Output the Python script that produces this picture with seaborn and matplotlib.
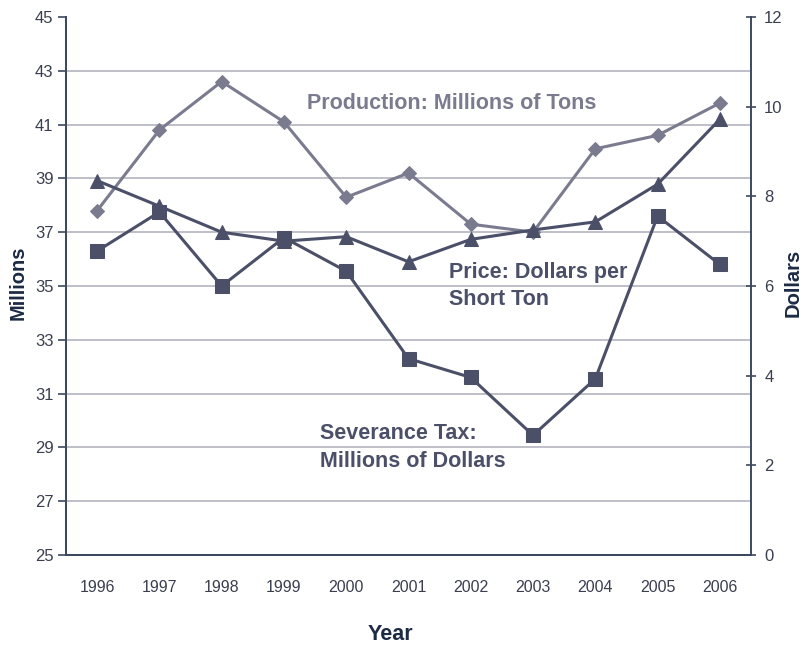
import matplotlib
matplotlib.use("Agg")
import matplotlib.pyplot as plt
import seaborn as sns
import pandas as pd
from matplotlib.ticker import FixedLocator

years = [1996, 1997, 1998, 1999, 2000, 2001, 2002, 2003, 2004, 2005, 2006]
production = [37.8, 40.8, 42.6, 41.1, 38.3, 39.2, 37.3, 37.0, 40.1, 40.6, 41.8]
severance_tax = [36.3, 37.75, 35.0, 36.8, 35.55, 32.3, 31.6, 29.45, 31.55, 37.6, 35.8]
price = [8.35, 7.78, 7.2, 7.0, 7.1, 6.54, 7.04, 7.25, 7.43, 8.27, 9.72]
millions_ticks = list(range(25, 46, 2))
dollars_ticks = list(range(0, 13, 2))

sns.set_style("white")
plt.rcParams["font.family"] = ["Liberation Sans", "DejaVu Sans"]

light = "#7b7b90"
dark = "#4b4f68"
axis_col = "#3c4a5e"
label_col = "#1c2a44"
tick_col = "#3a3f50"

df = pd.DataFrame({"Year": years, "Production": production,
                   "Severance": severance_tax, "Price": price})

fig = plt.figure(figsize=(8.07, 6.46), dpi=100)
ax = fig.add_axes([66 / 807, 1 - 555 / 646, (751 - 66) / 807, (555 - 17) / 646])
ax2 = ax.twinx()

sns.lineplot(data=df, x="Year", y="Production", ax=ax, color=light,
             marker="D", markersize=7, markeredgecolor=light, linewidth=2.2)
sns.lineplot(data=df, x="Year", y="Severance", ax=ax, color=dark,
             marker="s", markersize=10, markeredgecolor=dark, linewidth=2.2)
sns.lineplot(data=df, x="Year", y="Price", ax=ax2, color=dark,
             marker="^", markersize=10, markeredgecolor=dark, linewidth=2.2)

# left axis: millions
ax.set_ylim(25, 45)
ax.yaxis.set_major_locator(FixedLocator(millions_ticks))
ax.set_yticklabels([str(v) for v in millions_ticks])
ax.set_xlim(1995.5, 2006.5)
ax.xaxis.set_major_locator(FixedLocator(years))
ax.xaxis.set_minor_locator(FixedLocator([y + 0.5 for y in years[:-1]]))
ax.set_xticklabels([str(y) for y in years])
ax.tick_params(axis="x", which="major", length=0, pad=18, labelsize=11.5, labelcolor=tick_col)
ax.tick_params(axis="x", which="minor", length=6, width=1.2, color=axis_col, direction="out")
ax.tick_params(axis="y", which="major", length=6, width=1.2, color=axis_col,
               direction="out", labelsize=12, labelcolor=tick_col, pad=3)

# horizontal gridlines for the inner ticks
for v in millions_ticks[1:-1]:
    ax.axhline(v, color="#b4b4c0", linewidth=1.2, zorder=0)

# right axis: dollars
ax2.set_ylim(0, 12)
ax2.yaxis.set_major_locator(FixedLocator(dollars_ticks))
ax2.set_yticklabels([str(v) for v in dollars_ticks])
ax2.tick_params(axis="y", which="major", length=7, width=1.2, color=axis_col,
                direction="inout", labelsize=12, labelcolor=tick_col, pad=6)

for a in (ax, ax2):
    a.spines["top"].set_visible(False)
    for s in ("left", "right", "bottom"):
        a.spines[s].set_color(axis_col)
        a.spines[s].set_linewidth(1.4)
ax.spines["right"].set_visible(False)

ax.set_xlabel("Year", fontsize=15.5, fontweight="bold", color=label_col)
ax.xaxis.set_label_coords((390 - 66) / 685, -(634 - 555) / 538)
ax.set_ylabel("Millions", fontsize=14.5, fontweight="bold", color=label_col)
ax.yaxis.set_label_coords(-(66 - 18) / 685, (555 - 283) / 538)
ax2.set_ylabel("Dollars", fontsize=14.5, fontweight="bold", color=label_col)
ax2.yaxis.set_label_coords((793 - 66) / 685, (555 - 283) / 538)
for lab in (ax.xaxis.label, ax.yaxis.label, ax2.yaxis.label):
    lab.set_va("center")
    lab.set_ha("center")

ax.text(1999.37, 41.77, "Production: Millions of Tons", fontsize=15.5, fontweight="bold",
        color=light, va="center", ha="left")
ax.text(2001.65, 35.0, "Price: Dollars per\nShort Ton", fontsize=15.5, fontweight="bold",
        color=dark, va="center", ha="left", linespacing=1.42)
ax.text(1999.58, 29.0, "Severance Tax:\nMillions of Dollars", fontsize=15.5, fontweight="bold",
        color=dark, va="center", ha="left", linespacing=1.42)

fig.savefig("out.png", dpi=100)
